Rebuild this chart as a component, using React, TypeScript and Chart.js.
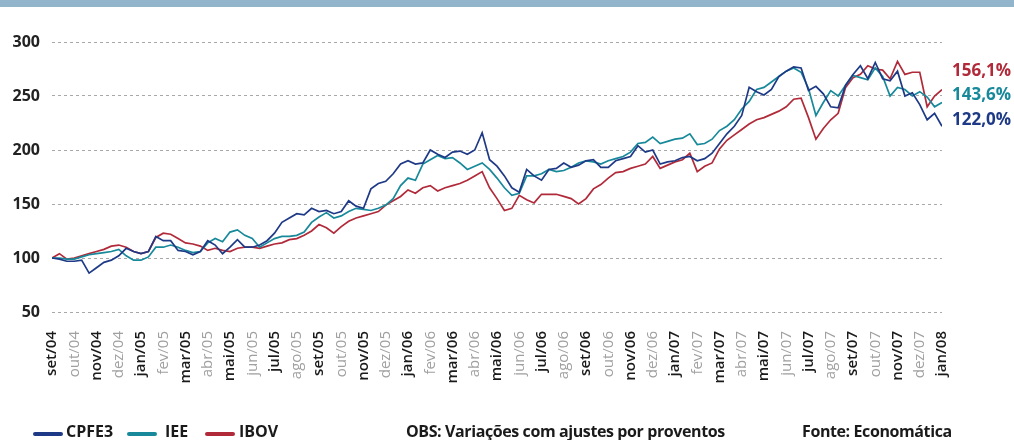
import React, { useEffect, useRef } from "react";
import { Chart, registerables } from "chart.js";

Chart.register(...registerables);

const monthLabels = [
  "set/04", "out/04", "nov/04", "dez/04", "jan/05", "fev/05", "mar/05", "abr/05", "mai/05", "jun/05",
  "jul/05", "ago/05", "set/05", "out/05", "nov/05", "dez/05", "jan/06", "fev/06", "mar/06", "abr/06",
  "mai/06", "jun/06", "jul/06", "ago/06", "set/06", "out/06", "nov/06", "dez/06", "jan/07", "fev/07",
  "mar/07", "abr/07", "mai/07", "jun/07", "jul/07", "ago/07", "set/07", "out/07", "nov/07", "dez/07",
  "jan/08",
];

// three readings per month, from set/04 to jan/08
const cpfe3 = [
  100, 99, 97, 97, 98, 86, 91, 96, 98, 102,
  109, 106, 104, 106, 120, 116, 116, 107, 106, 103,
  106, 116, 112, 104, 110, 117, 110, 110, 112, 116,
  123, 133, 137, 141, 140, 146, 143, 144, 141, 143,
  153, 148, 146, 164, 169, 171, 178, 187, 190, 187,
  188, 200, 196, 193, 198, 199, 196, 200, 216, 191,
  185, 176, 165, 161, 182, 176, 172, 182, 183, 188,
  184, 186, 190, 191, 184, 184, 190, 192, 194, 204,
  198, 200, 187, 189, 190, 193, 194, 190, 192, 197,
  206, 215, 222, 232, 258, 254, 251, 256, 268, 273,
  277, 276, 255, 259, 252, 240, 239, 260, 270, 278,
  266, 281, 266, 264, 273, 250, 253, 242, 228, 234,
  222,
];

const iee = [
  100, 100, 99, 99, 101, 103, 104, 105, 106, 108,
  102, 98, 98, 101, 110, 110, 112, 110, 107, 105,
  106, 114, 118, 115, 124, 126, 121, 118, 110, 114,
  118, 120, 120, 121, 124, 133, 138, 142, 137, 139,
  143, 146, 145, 144, 146, 149, 155, 167, 174, 172,
  187, 191, 195, 192, 193, 188, 182, 185, 188, 182,
  174, 165, 158, 160, 176, 176, 178, 182, 180, 181,
  184, 188, 190, 189, 187, 190, 192, 194, 198, 206,
  207, 212, 206, 208, 210, 211, 215, 205, 206, 210,
  218, 222, 228, 238, 245, 256, 258, 263, 268, 273,
  276, 272, 257, 232, 244, 255, 250, 260, 269, 267,
  265, 276, 268, 250, 258, 256, 250, 254, 249, 240,
  244,
];

const ibov = [
  100, 104, 99, 100, 102, 104, 106, 108, 111, 112,
  110, 106, 104, 106, 119, 123, 122, 118, 114, 113,
  111, 107, 109, 107, 106, 109, 110, 110, 109, 111,
  113, 114, 117, 118, 121, 125, 131, 128, 123, 129,
  134, 137, 139, 141, 143, 149, 153, 157, 163, 160,
  165, 167, 162, 165, 167, 169, 172, 176, 180, 165,
  155, 144, 146, 158, 154, 151, 159, 159, 159, 157,
  155, 150, 155, 164, 168, 174, 179, 180, 183, 185,
  187, 194, 183, 186, 189, 191, 197, 180, 185, 188,
  201, 209, 214, 219, 224, 228, 230, 233, 236, 240,
  247, 248, 230, 210, 220, 228, 234, 258, 267, 270,
  278, 275, 274, 266, 282, 270, 272, 272, 240, 250,
  256,
];

const seriesNames = ["CPFE3", "IEE", "IBOV"];
const endLabels = ["122,0%", "143,6%", "156,1%"];
const yTicks = [50, 100, 150, 200, 250, 300];

const BLUE = "#1e3a86";
const TEAL = "#17899a";
const RED = "#b12a3a";
const FONT = "'Open Sans', 'DejaVu Sans', sans-serif";

const toPoints = (vals: number[]) => vals.map((v, i) => ({ x: i / 3, y: v }));

export default function App() {
  const canvasRef = useRef<HTMLCanvasElement | null>(null);

  useEffect(() => {
    const ctx = canvasRef.current!;
    const chart = new Chart(ctx, {
      type: "line",
      data: {
        datasets: [
          { label: seriesNames[0], data: toPoints(cpfe3), borderColor: BLUE, borderWidth: 1.7, pointRadius: 0, tension: 0 },
          { label: seriesNames[1], data: toPoints(iee), borderColor: TEAL, borderWidth: 1.7, pointRadius: 0, tension: 0 },
          { label: seriesNames[2], data: toPoints(ibov), borderColor: RED, borderWidth: 1.7, pointRadius: 0, tension: 0 },
        ],
      },
      options: {
        responsive: false,
        animation: false,
        events: [],
        layout: { padding: { top: 42, right: 72, left: 0, bottom: 0 } },
        plugins: { legend: { display: false }, tooltip: { enabled: false } },
        scales: {
          x: {
            type: "linear",
            min: 0,
            max: monthLabels.length - 1,
            grid: { display: false, drawTicks: false },
            border: { display: false },
            afterFit: (s: any) => { s.height = 128; },
            ticks: {
              stepSize: 1,
              autoSkip: false,
              minRotation: 90,
              maxRotation: 90,
              padding: 19,
              callback: (v: any) => monthLabels[Math.round(Number(v))] ?? "",
              color: (c: any) => (c.index % 2 === 0 ? "#1a1a1a" : "#a0a0a0"),
              font: (c: any) => ({ family: FONT, size: 15, weight: c.index % 2 === 0 ? "600" : "normal" }),
            },
          },
          y: {
            min: 50,
            max: 300,
            afterFit: (s: any) => { s.width = 52; },
            afterBuildTicks: (s: any) => { s.ticks = yTicks.map((v) => ({ value: v })); },
            grid: { color: "#a8a8a8", lineWidth: 1, drawTicks: false },
            border: { display: false, dash: [3, 3] },
            ticks: {
              padding: 12,
              color: "#222",
              font: { family: FONT, size: 16, weight: "700" },
            },
          },
        },
      },
    });
    return () => chart.destroy();
  }, []);

  const legendItem = (color: string, name: string, swLeft: number, txtLeft: number) => (
    <>
      <div style={{ position: "absolute", left: swLeft, top: 432, width: 30, height: 4, background: color, borderRadius: 2 }} />
      <div style={{ position: "absolute", left: txtLeft, top: 420, fontFamily: FONT, fontWeight: 700, fontSize: 16, color: "#1a1a1a", whiteSpace: "nowrap" }}>{name}</div>
    </>
  );

  return (
    <div style={{ position: "absolute", left: 0, top: 0, width: 1014, height: 440, overflow: "hidden", background: "#fff" }}>
      <div style={{ position: "absolute", left: 0, top: 0, width: 1014, height: 7, background: "#93b5cb" }} />
      <canvas ref={canvasRef} width={1014} height={440} style={{ position: "absolute", left: 0, top: 0, display: "block" }} />
      <div style={{ position: "absolute", left: 952, top: 58, fontFamily: FONT, fontWeight: 700, fontSize: 17, color: RED, whiteSpace: "nowrap" }}>{endLabels[2]}</div>
      <div style={{ position: "absolute", left: 952, top: 82, fontFamily: FONT, fontWeight: 700, fontSize: 17, color: TEAL, whiteSpace: "nowrap" }}>{endLabels[1]}</div>
      <div style={{ position: "absolute", left: 952, top: 107, fontFamily: FONT, fontWeight: 700, fontSize: 17, color: BLUE, whiteSpace: "nowrap" }}>{endLabels[0]}</div>
      {legendItem(BLUE, seriesNames[0], 33, 66)}
      {legendItem(TEAL, seriesNames[1], 127, 165)}
      {legendItem(RED, seriesNames[2], 205, 239)}
      <div style={{ position: "absolute", left: 406, top: 420, fontFamily: FONT, fontWeight: 700, fontSize: 16, color: "#1a1a1a", whiteSpace: "nowrap", letterSpacing: -0.4 }}>OBS: Variações com ajustes por proventos</div>
      <div style={{ position: "absolute", left: 802, top: 420, fontFamily: FONT, fontWeight: 700, fontSize: 16, color: "#1a1a1a", whiteSpace: "nowrap", letterSpacing: -0.4 }}>Fonte: Economática</div>
    </div>
  );
}
